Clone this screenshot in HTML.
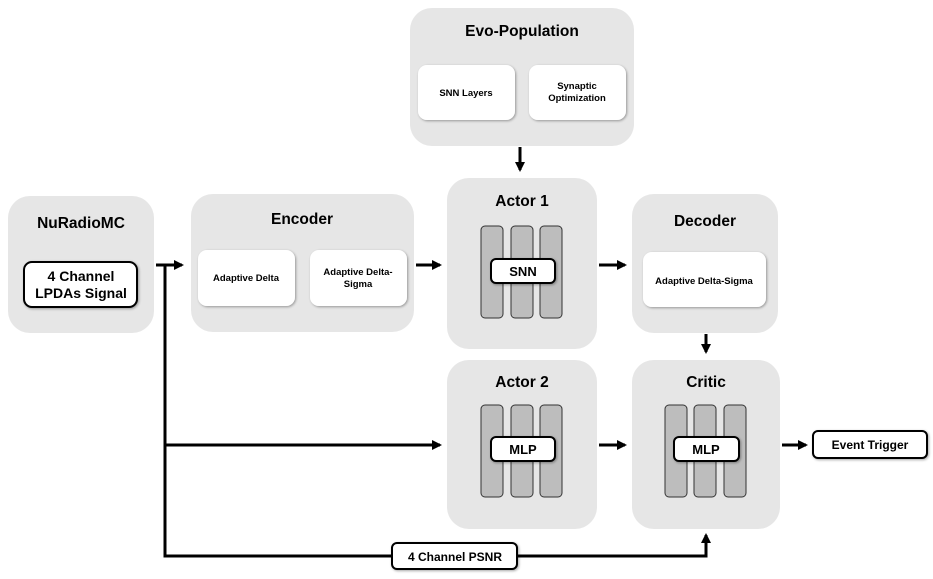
<!DOCTYPE html>
<html><head><meta charset="utf-8"><style>
html,body{margin:0;padding:0;background:#fff;}
svg{display:block;font-family:"Liberation Sans",Arial,sans-serif;font-weight:bold;}
</style></head><body>
<svg width="933" height="579" viewBox="0 0 933 579" xmlns="http://www.w3.org/2000/svg">
<defs>
<filter id="sh" x="-20%" y="-20%" width="140%" height="140%"><feDropShadow dx="1" dy="1" stdDeviation="1.2" flood-color="#000" flood-opacity="0.35"/></filter>
<marker id="ah" markerWidth="10" markerHeight="10" refX="8" refY="5" orient="auto" markerUnits="userSpaceOnUse"><path d="M0,0 L10,5 L0,10 z" fill="#000"/></marker>
</defs>
<g fill="#e6e6e6">
<rect x="410" y="8" width="224" height="138" rx="22"/>
<rect x="8" y="196" width="146" height="137" rx="22"/>
<rect x="191" y="194" width="223" height="138" rx="22"/>
<rect x="447" y="178" width="150" height="171" rx="22"/>
<rect x="632" y="194" width="146" height="139" rx="22"/>
<rect x="447" y="360" width="150" height="169" rx="22"/>
<rect x="632" y="360" width="148" height="169" rx="22"/>
</g>
<g font-size="15.5" text-anchor="middle" fill="#000">
<text x="522" y="36">Evo-Population</text>
<text x="81" y="228">NuRadioMC</text>
<text x="302" y="224">Encoder</text>
<text x="522" y="206">Actor 1</text>
<text x="705" y="226">Decoder</text>
<text x="522" y="387">Actor 2</text>
<text x="706" y="387">Critic</text>
</g>
<g fill="#fff" filter="url(#sh)">
<rect x="418" y="65" width="97" height="55" rx="9"/>
<rect x="529" y="65" width="97" height="55" rx="9"/>
<rect x="198" y="250" width="97" height="56" rx="9"/>
<rect x="310" y="250" width="97" height="56" rx="9"/>
<rect x="643" y="252" width="123" height="55" rx="9"/>
</g>
<g font-size="9.5" text-anchor="middle">
<text x="466" y="96">SNN Layers</text>
<text x="577" y="89">Synaptic</text><text x="577" y="101">Optimization</text>
<text x="246" y="281">Adaptive Delta</text>
<text x="358" y="275">Adaptive Delta-</text><text x="358" y="287">Sigma</text>
<text x="704" y="284">Adaptive Delta-Sigma</text>
</g>
<g fill="#bdbdbd" stroke="#333" stroke-width="1">
<rect x="481" y="226" width="22" height="92" rx="4"/><rect x="511" y="226" width="22" height="92" rx="4"/><rect x="540" y="226" width="22" height="92" rx="4"/>
<rect x="481" y="405" width="22" height="92" rx="4"/><rect x="511" y="405" width="22" height="92" rx="4"/><rect x="540" y="405" width="22" height="92" rx="4"/>
<rect x="665" y="405" width="22" height="92" rx="4"/><rect x="694" y="405" width="22" height="92" rx="4"/><rect x="724" y="405" width="22" height="92" rx="4"/>
</g>
<g fill="#fff" stroke="#000" stroke-width="2" filter="url(#sh)">
<rect x="24" y="262" width="113" height="45" rx="8"/>
<rect x="491" y="259" width="64" height="24" rx="5"/>
<rect x="491" y="437" width="64" height="24" rx="5"/>
<rect x="674" y="437" width="65" height="24" rx="5"/>
<rect x="813" y="431" width="114" height="27" rx="5"/>
</g>
<g stroke="#000" stroke-width="3" fill="none">
<path d="M520,147 V170" marker-end="url(#ah)"/>
<path d="M156,265 H182" marker-end="url(#ah)"/>
<path d="M165,265 V556 H706 V535" marker-end="url(#ah)"/>
<path d="M165,445 H440" marker-end="url(#ah)"/>
<path d="M416,265 H440" marker-end="url(#ah)"/>
<path d="M599,265 H625" marker-end="url(#ah)"/>
<path d="M706,334 V352" marker-end="url(#ah)"/>
<path d="M599,445 H625" marker-end="url(#ah)"/>
<path d="M782,445 H806" marker-end="url(#ah)"/>
</g>
<rect x="392" y="543" width="125" height="26" rx="5" fill="#fff" stroke="#000" stroke-width="2" filter="url(#sh)"/>
<g text-anchor="middle" fill="#000">
<text x="81" y="281" font-size="14">4 Channel</text>
<text x="81" y="298" font-size="14">LPDAs Signal</text>
<text x="523" y="276" font-size="13">SNN</text>
<text x="523" y="454" font-size="13">MLP</text>
<text x="706" y="454" font-size="13">MLP</text>
<text x="870" y="449" font-size="12">Event Trigger</text>
<text x="455" y="561" font-size="12">4 Channel PSNR</text>
</g>
</svg>
</body></html>
